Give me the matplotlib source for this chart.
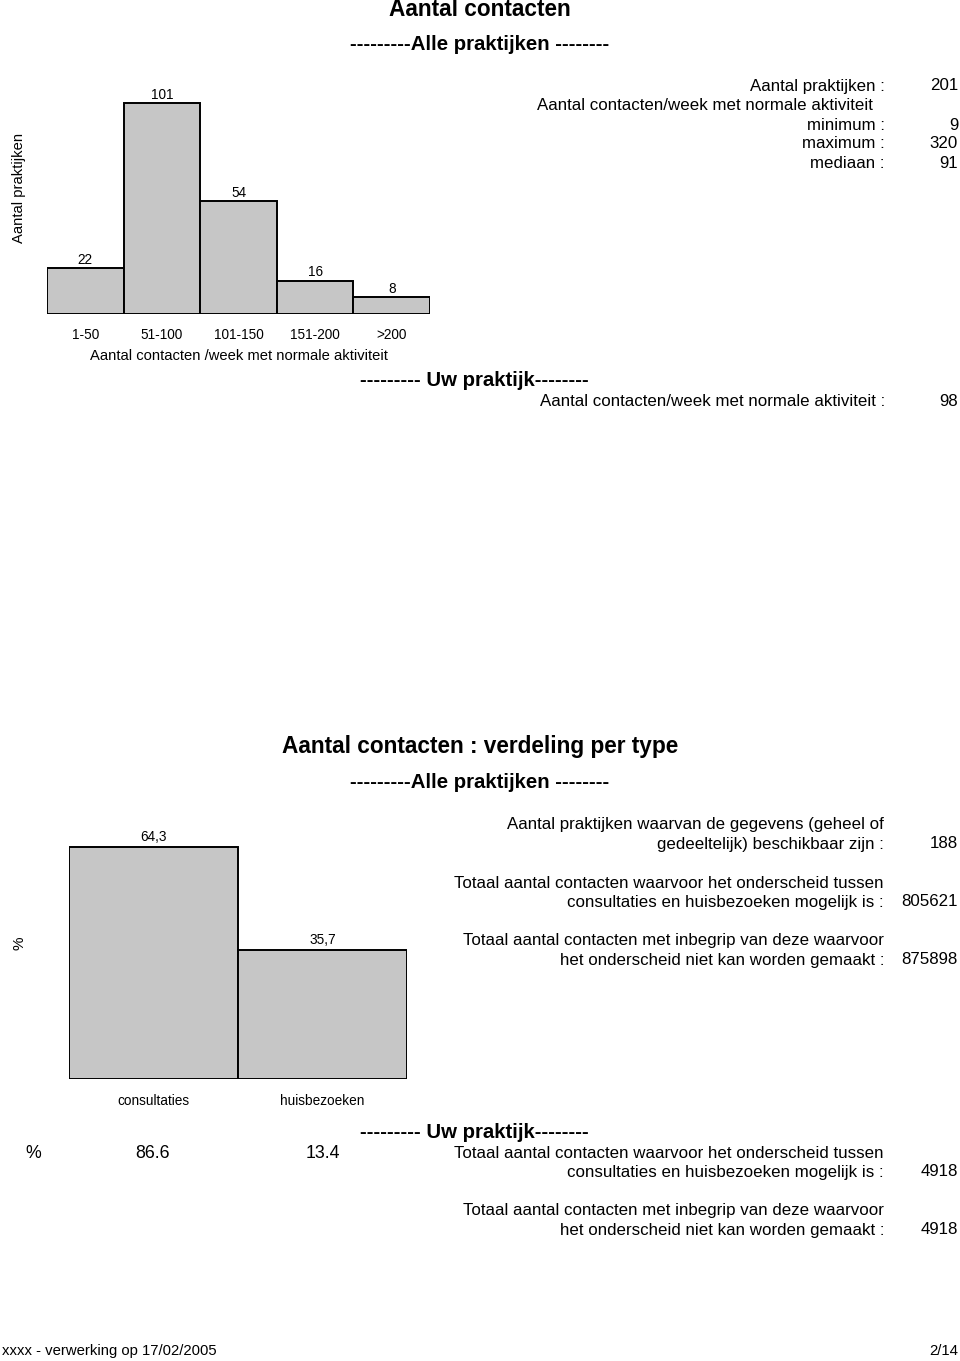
import matplotlib
matplotlib.use("Agg")
import matplotlib.pyplot as plt

plt.rcParams['font.family'] = ['Liberation Sans', 'DejaVu Sans']

W, H = 960, 1361

# ---- data ----
hist_categories = ["1-50", "51-100", "101-150", "151-200", ">200"]
hist_counts = [22, 101, 54, 16, 8]
stats_labels = ["Aantal praktijken :", "minimum :", "maximum :", "mediaan :"]
stats_values = ["201", "9", "320", "91"]
uw_contacts = "98"

type_categories = ["consultaties", "huisbezoeken"]
type_pct = [64.3, 35.7]
type_pct_labels = ["64,3", "35,7"]
uw_type_pct = ["86.6", "13.4"]
alle_counts = ["188", "805621", "875898"]
uw_counts = ["4918", "4918"]

BAR_COLOR = "#c6c6c6"
BODY = 12.2
SUB = 14.7
TITLE = 16.3

fig = plt.figure(figsize=(W / 100, H / 100), dpi=100)


def t(x, y, s, **kw):
    kw.setdefault("va", "center")
    kw.setdefault("fontsize", BODY)
    fig.text(x / W, 1 - y / H, s, **kw)


def axes_px(left, right, bottom, top):
    return fig.add_axes([left / W, 1 - bottom / H, (right - left) / W, (bottom - top) / H])


# ---- Section 1 ----
t(480, 9, "Aantal contacten", ha="center", fontsize=TITLE, fontweight="bold")
t(480, 44, "---------Alle praktijken --------", ha="center", fontsize=SUB, fontweight="bold")

ymax1 = 115
ax1 = axes_px(47, 430, 314, 314 - ymax1 * 211 / 101)
bars1 = ax1.bar(range(len(hist_counts)), hist_counts, width=1.0, color=BAR_COLOR,
                edgecolor="black", linewidth=1.4)
ax1.bar_label(bars1, labels=[str(v) for v in hist_counts], padding=1, fontsize=9.8)
ax1.set_xlim(-0.5, len(hist_counts) - 0.5)
ax1.set_ylim(0, ymax1)
ax1.set_xticks(range(len(hist_categories)))
ax1.set_xticklabels(hist_categories, fontsize=9.8)
ax1.tick_params(axis="x", length=0, pad=10)
ax1.set_yticks([])
for sp in ax1.spines.values():
    sp.set_visible(False)
ax1.patch.set_visible(False)
ax1.set_xlabel("Aantal contacten /week met normale aktiviteit", fontsize=10.6, labelpad=5)
t(19, 188, "Aantal praktijken", rotation=90, ha="center", fontsize=10.6)

rows_y = [86, 125, 144, 164]
for lab, val, y in zip(stats_labels, stats_values, rows_y):
    t(885, y, lab, ha="right")
    t(958, y, val, ha="right")
t(873, 105, "Aantal contacten/week met normale aktiviteit", ha="right")

t(474, 380, "--------- Uw praktijk--------", ha="center", fontsize=SUB, fontweight="bold")
t(885, 402, "Aantal contacten/week met normale aktiviteit :", ha="right")
t(958, 402, uw_contacts, ha="right")

# ---- Section 2 ----
t(480, 746, "Aantal contacten : verdeling per type", ha="center", fontsize=TITLE, fontweight="bold")
t(480, 783, "---------Alle praktijken --------", ha="center", fontsize=SUB, fontweight="bold")

ymax2 = 70
ppu = (1079 - 847) / 64.3
ax2 = axes_px(69, 407, 1079, 1079 - ymax2 * ppu)
bars2 = ax2.bar(range(len(type_pct)), type_pct, width=1.0, color=BAR_COLOR,
                edgecolor="black", linewidth=1.4)
ax2.bar_label(bars2, labels=type_pct_labels, padding=2, fontsize=9.8)
ax2.set_xlim(-0.5, len(type_pct) - 0.5)
ax2.set_ylim(0, ymax2)
ax2.set_xticks(range(len(type_categories)))
ax2.set_xticklabels(type_categories, fontsize=9.8)
ax2.tick_params(axis="x", length=0, pad=11)
ax2.set_yticks([])
for sp in ax2.spines.values():
    sp.set_visible(False)
ax2.patch.set_visible(False)
t(19, 943, "%", rotation=90, ha="center", fontsize=11)

blocks = [
    ("Aantal praktijken waarvan de gegevens (geheel of", "gedeeltelijk) beschikbaar zijn :", 825),
    ("Totaal aantal contacten waarvoor het onderscheid tussen", "consultaties en huisbezoeken mogelijk is :", 883),
    ("Totaal aantal contacten met inbegrip van deze waarvoor", "het onderscheid niet kan worden gemaakt :", 941),
]
for (l1, l2, y), val in zip(blocks, alle_counts):
    t(884, y, l1, ha="right")
    t(884, y + 19, l2, ha="right")
    t(958, y + 19, val, ha="right")

t(474, 1132, "--------- Uw praktijk--------", ha="center", fontsize=SUB, fontweight="bold")
t(33, 1153, "%", ha="center", fontsize=12.8)
t(153, 1153, uw_type_pct[0], ha="center", fontsize=12.8)
t(323, 1153, uw_type_pct[1], ha="center", fontsize=12.8)
for (l1, l2, y), val in zip(blocks[1:], uw_counts):
    yy = y + 270
    t(884, yy, l1, ha="right")
    t(884, yy + 19, l2, ha="right")
    t(958, yy + 19, val, ha="right")

# ---- footer ----
t(2, 1351, "xxxx - verwerking op 17/02/2005", ha="left", fontsize=10.7)
t(958, 1351, "2/14", ha="right", fontsize=10.7)

fig.savefig("out.png", dpi=100)
